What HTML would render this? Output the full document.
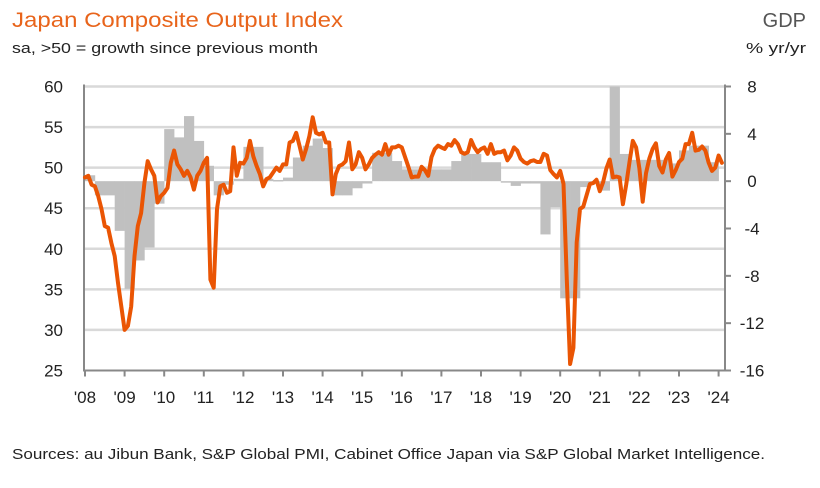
<!DOCTYPE html>
<html><head><meta charset="utf-8"><style>
body{margin:0;background:#fff;}
svg{display:block;font-family:"Liberation Sans",sans-serif;}
</style></head><body>
<svg id="chart" width="820" height="488" viewBox="0 0 820 488" xmlns="http://www.w3.org/2000/svg">
<text x="12" y="27" font-size="21" fill="#E8641B" textLength="331" lengthAdjust="spacingAndGlyphs">Japan Composite Output Index</text>
<text x="12" y="53" font-size="15" fill="#222" textLength="306" lengthAdjust="spacingAndGlyphs">sa, &gt;50 = growth since previous month</text>
<text x="806" y="27" font-size="20" fill="#555" text-anchor="end">GDP</text>
<text x="806" y="53" font-size="15" fill="#222" text-anchor="end" textLength="60" lengthAdjust="spacingAndGlyphs">% yr/yr</text>
<g id="grid"></g><g id="bars"></g><g id="axes"></g><g id="line"></g><g id="labels"></g>
<text x="12" y="459" font-size="15" fill="#222" textLength="753" lengthAdjust="spacingAndGlyphs">Sources: au Jibun Bank, S&amp;P Global PMI, Cabinet Office Japan via S&amp;P Global Market Intelligence.</text>
</svg>
<script>
const leftTicks=[25,30,35,40,45,50,55,60];
const rightTicks=[-16,-12,-8,-4,0,4,8];
const yearLabels=["'08","'09","'10","'11","'12","'13","'14","'15","'16","'17","'18","'19","'20","'21","'22","'23","'24"];
const gdpStartYear=2008;
const gdpQuarterly=[0.5,-1.2,-1.2,-4.2,-9.1,-6.7,-5.6,-1.9,4.4,3.7,5.5,3.4,1.3,-1.2,-0.3,0.2,2.9,2.9,0.2,0.1,0.3,2.0,3.0,3.6,2.8,-1.2,-1.2,-0.6,-0.2,2.4,2.4,1.7,1.0,1.0,1.0,1.0,1.0,1.7,2.3,2.3,1.6,1.6,-0.1,-0.4,-0.2,-0.2,-4.5,-2.2,-9.9,-9.9,-0.5,-0.2,-0.8,8.0,2.3,1.8,1.8,1.8,1.8,1.5,2.6,3.0,3.0,1.6];
const pmiMonthly=[
48.8,49.0,47.9,47.7,46.5,44.9,42.8,42.6,40.7,39.1,35.8,32.9,
30.0,30.5,32.9,39.1,42.8,44.4,48.1,50.8,49.8,49.0,45.7,46.5,
46.9,47.5,50.6,52.1,50.4,49.8,49.0,49.6,48.8,47.3,49.0,49.6,
50.6,51.2,36.2,35.2,44.9,47.7,47.9,46.9,47.1,52.5,49.0,50.6,
50.5,51.2,53.3,51.4,50.2,49.2,47.7,48.6,48.8,49.4,50.0,49.6,
50.4,50.4,53.1,53.3,54.3,52.7,51.0,52.3,53.9,56.2,54.3,54.1,
54.3,53.1,53.1,46.7,49.2,50.2,50.4,50.8,53.1,49.8,50.4,51.9,
51.2,49.8,50.4,51.2,51.6,51.9,51.6,52.9,51.6,52.5,52.5,52.7,
52.5,51.3,50.1,48.8,48.9,48.9,50.1,49.7,49.0,51.3,52.3,52.7,
52.5,52.3,52.9,52.7,53.4,52.9,51.9,51.7,51.9,53.4,52.5,51.9,
52.3,52.5,51.7,52.9,51.7,51.9,51.9,52.1,50.9,51.5,52.5,52.1,
51.1,50.7,50.5,50.8,50.9,50.7,50.7,51.7,51.5,49.7,49.2,48.8,
49.6,48.0,36.2,25.8,27.8,40.8,44.9,45.2,46.6,48.0,48.1,48.5,
47.1,48.2,49.9,51.0,48.8,48.9,48.8,45.5,47.9,50.7,53.3,52.5,
49.9,45.8,49.3,51.1,52.3,53.0,50.2,49.4,51.0,51.8,48.9,49.7,
50.7,51.1,52.9,52.9,54.3,52.1,52.2,52.6,52.1,50.6,49.6,50.0,
51.5,50.6];

const NS="http://www.w3.org/2000/svg";
const X0=85,X1=718.6,YT=86.5,YB=370.5;
const xYear=t=>X0+(t-2008)*(X1-X0)/16;
const yL=v=>YB-(v-25)*(YB-YT)/35;
const yR=v=>YB-(v+16)*(YB-YT)/24;
function mk(tag,attrs,parent){const e=document.createElementNS(NS,tag);for(const k in attrs)e.setAttribute(k,attrs[k]);document.getElementById(parent).appendChild(e);return e;}

leftTicks.forEach(v=>{
  if(v>25){const g=mk('line',{x1:X0,x2:725,y1:yL(v),y2:yL(v),stroke:'#d9d9d9','stroke-width':2.5},'grid');
  
  }
  const t=mk('text',{x:63,y:yL(v)+6,'font-size':17,'text-anchor':'end',fill:'#222'},'labels');
  t.textContent=v;
  
  
});
rightTicks.forEach(v=>{
  const t=mk('text',{x:752,y:yR(v)+6,'font-size':17,'text-anchor':'middle',fill:'#222'},'labels');
  t.textContent=v;
  
  
  const k=mk('line',{x1:725,x2:731,y1:yR(v),y2:yR(v),stroke:'#888','stroke-width':2},'axes');
  
  
});
yearLabels.forEach((s,i)=>{
  const x=xYear(2008+i);
  const t=mk('text',{x:x,y:403,'font-size':17,'text-anchor':'middle',fill:'#222'},'labels');
  t.textContent=s;
  
  
  const k=mk('line',{x1:x,x2:x,y1:YB,y2:YB+6,stroke:'#888','stroke-width':2},'axes');
  
  
});
gdpQuarterly.forEach((v,i)=>{
  const t0=gdpStartYear+i/4, xa=xYear(t0), xb=xYear(t0+0.25);
  const vc=Math.max(-16,Math.min(8,v));
  const y0=yR(0), y1=yR(vc);
  const r=mk('rect',{x:xa,y:Math.min(y0,y1),width:xb-xa+0.3,height:Math.max(1.5,Math.abs(y1-y0)),fill:'#c0c0c0'},'bars');
  
  
});
let a=mk('line',{x1:X0-1,x2:X0-1,y1:YT-2,y2:YB+1,stroke:'#888','stroke-width':2},'axes');

a=mk('line',{x1:725,x2:725,y1:YT-2,y2:YB+1,stroke:'#888','stroke-width':2},'axes');

a=mk('line',{x1:X0-1,x2:726,y1:YB,y2:YB,stroke:'#888','stroke-width':2},'axes');

const pts=pmiMonthly.map((v,i)=>xYear(2008+i/12).toFixed(1)+','+yL(v).toFixed(1)).join(' ');
const pl=mk('polyline',{points:pts,fill:'none',stroke:'#EA5504','stroke-width':4,'stroke-linejoin':'round','stroke-linecap':'round'},'line');


</script>
</body></html>
